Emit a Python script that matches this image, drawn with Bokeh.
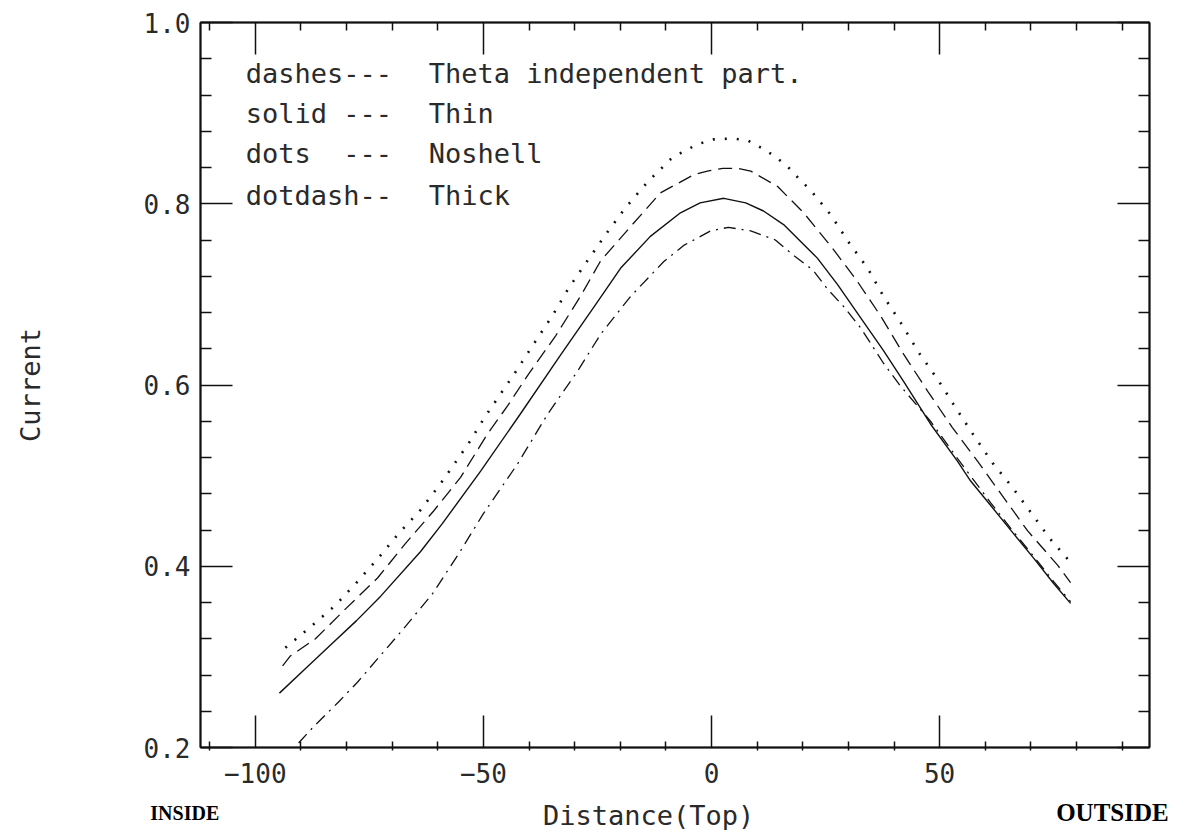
import math
from bokeh.plotting import figure
from bokeh.models import (LinearAxis, FixedTicker, Range1d, Label,
                          PrintfTickFormatter, CustomJSTickFormatter)
from bokeh.embed import file_html
from bokeh.resources import INLINE

# ---------------- data ----------------
x_major_ticks = [-100, -50, 0, 50]
x_minor_ticks = [-110, -90, -80, -70, -60, -40, -30, -20, -10, 10, 20, 30, 40, 60, 70, 80, 90]
y_major_ticks = [0.2, 0.4, 0.6, 0.8, 1.0]
y_minor_ticks = [0.24, 0.28, 0.32, 0.36, 0.44, 0.48, 0.52, 0.56, 0.64, 0.68, 0.72, 0.76,
                 0.84, 0.88, 0.92, 0.96]

# dots --- Noshell
noshell_x = [-93.4, -87.9, -82.4, -77.8, -73.2, -68.6, -63.8, -59.4, -53.3, -49.5, -43.0,
             -39.0, -34.8, -31.3, -27.2, -23.2, -18.8, -14.0, -9.0, -6.1, -2.8, 0.4, 4.6,
             7.9, 11.2, 14.0, 16.7, 19.1, 21.7, 26.1, 30.0, 34.2, 37.7, 41.7, 45.4, 49.6,
             53.5, 57.4, 61.6, 65.8, 70.2, 74.1, 78.9]
noshell_y = [0.310, 0.333, 0.357, 0.382, 0.408, 0.436, 0.462, 0.491, 0.535, 0.566, 0.614,
             0.645, 0.677, 0.707, 0.737, 0.766, 0.796, 0.824, 0.849, 0.858, 0.866, 0.871, 0.872,
             0.870, 0.861, 0.852, 0.841, 0.828, 0.815, 0.788, 0.758, 0.729, 0.698, 0.667, 0.636,
             0.606, 0.575, 0.545, 0.514, 0.488, 0.458, 0.431, 0.403]

# dashes --- Theta independent part.
theta_x = [-94.0, -92.3, -86.8, -80.2, -73.2, -67.1, -60.9, -55.0, -49.1, -44.7, -40.1,
           -34.2, -28.7, -24.3, -17.7, -11.2, -3.9, -0.9, 2.5, 5.7, 8.6, 14.5, 20.2, 26.5,
           31.6, 37.1, 42.1, 47.4, 52.8, 58.3, 64.0, 69.3, 75.9, 78.7]
theta_y = [0.290, 0.301, 0.320, 0.353, 0.387, 0.425, 0.461, 0.498, 0.546, 0.577, 0.612,
           0.654, 0.698, 0.737, 0.775, 0.812, 0.832, 0.836, 0.839, 0.839, 0.836, 0.819, 0.790,
           0.751, 0.717, 0.676, 0.634, 0.593, 0.553, 0.516, 0.476, 0.439, 0.401, 0.382]

# solid --- Thin
thin_x = [-94.7, -88.8, -83.5, -77.8, -72.5, -63.8, -59.0, -50.6, -41.9, -33.1, -25.9, -19.9,
          -13.4, -6.8, -2.5, 2.7, 7.5, 11.4, 15.8, 23.2, 27.6, 32.7, 37.7, 42.1, 48.0, 53.9,
          56.8, 61.2, 66.2, 70.6, 75.0, 78.7]
thin_y = [0.260, 0.288, 0.313, 0.340, 0.367, 0.416, 0.447, 0.505, 0.568, 0.633, 0.685, 0.729,
          0.764, 0.790, 0.801, 0.806, 0.801, 0.792, 0.777, 0.740, 0.711, 0.674, 0.638, 0.604,
          0.557, 0.516, 0.494, 0.467, 0.436, 0.409, 0.381, 0.359]

# dotdash --- Thick
thick_x = [-90.5, -87.4, -81.8, -77.6, -73.0, -67.5, -61.1, -55.0, -50.0, -42.5, -35.9,
           -29.4, -24.3, -17.7, -10.5, -6.1, -0.2, 3.7, 8.6, 14.0, 18.0, 22.2, 25.4, 28.9,
           32.7, 37.7, 41.4, 48.0, 53.9, 61.2, 66.2, 70.6, 75.0, 78.7]
thick_y = [0.205, 0.222, 0.250, 0.272, 0.299, 0.331, 0.370, 0.417, 0.458, 0.513, 0.568,
           0.615, 0.656, 0.698, 0.736, 0.754, 0.770, 0.774, 0.770, 0.760, 0.743, 0.727, 0.706,
           0.687, 0.663, 0.624, 0.599, 0.560, 0.519, 0.470, 0.438, 0.411, 0.383, 0.361]

NB = "\u00a0"
legend_keys = ["dashes---", "solid" + NB + "---", "dots" + NB + NB + "---", "dotdash--"]
legend_names = ["Theta" + NB + "independent" + NB + "part.", "Thin", "Noshell", "Thick"]

# ---------------- figure ----------------
INK = "#111111"
TXT = "#2a2a2a"
MONO = "DejaVu Sans Mono"

p = figure(width=1186, height=830,
           x_range=Range1d(-112, 96), y_range=Range1d(0.2, 1.0),
           output_backend="svg", toolbar_location=None,
           min_border_left=200, min_border_right=37,
           min_border_top=21, min_border_bottom=83,
           background_fill_color="white", border_fill_color="white")
p.xgrid.visible = False
p.ygrid.visible = False
p.outline_line_color = INK
p.outline_line_width = 1.5

def style_axis(ax, major, minor, minor_in, minor_out, labels):
    ax.ticker = FixedTicker(ticks=major, minor_ticks=minor)
    ax.axis_line_color = INK
    ax.axis_line_width = 2
    ax.major_tick_line_color = INK
    ax.major_tick_line_width = 1.5
    ax.major_tick_in = 32
    ax.major_tick_out = 0
    ax.minor_tick_line_color = INK
    ax.minor_tick_line_width = 1.5
    ax.minor_tick_in = minor_in
    ax.minor_tick_out = minor_out
    if labels:
        ax.major_label_text_font = MONO
        ax.major_label_text_font_size = "26px"
        ax.major_label_text_color = TXT
    else:
        ax.formatter = CustomJSTickFormatter(code="return ''")
        ax.major_label_text_font_size = "0px"
        ax.major_label_standoff = 0

xb = p.xaxis[0]
style_axis(xb, x_major_ticks, x_minor_ticks, 6, 3, True)
xb.major_label_standoff = 12

yl = p.yaxis[0]
style_axis(yl, y_major_ticks, y_minor_ticks, 11, 0, True)
yl.formatter = PrintfTickFormatter(format="%.1f")
yl.major_label_standoff = 10

xt = LinearAxis()
style_axis(xt, x_major_ticks, x_minor_ticks, 8, 0, False)
p.add_layout(xt, "above")

yr = LinearAxis()
style_axis(yr, y_major_ticks, y_minor_ticks, 11, 0, False)
p.add_layout(yr, "right")

# curves
p.line(noshell_x, noshell_y, line_color=INK, line_width=2.6, line_dash="2 10")
p.line(theta_x, theta_y, line_color=INK, line_width=1.3, line_dash="14 7")
p.line(thin_x, thin_y, line_color=INK, line_width=1.4)
p.line(thick_x, thick_y, line_color=INK, line_width=1.3, line_dash="12 6 2 6")

# legend text (as drawn in the original: plain text lines)
rows_y = [0.944, 0.900, 0.855, 0.809]
for key, name, ry in zip(legend_keys, legend_names, rows_y):
    p.add_layout(Label(x=-102.1, y=ry, text=key, text_font=MONO, text_font_size="27px",
                       text_color=TXT, text_baseline="middle", text_align="left"))
    p.add_layout(Label(x=-62.0, y=ry, text=name, text_font=MONO, text_font_size="27px",
                       text_color=TXT, text_baseline="middle", text_align="left"))

# texts outside the frame: each is put in a side panel that has room for it
# (positions are still given in the frame's data coordinates)
p.add_layout(Label(x=-13.8, y=0.125, text="Distance(Top)", text_font=MONO,
                   text_font_size="27px", text_color=TXT,
                   text_align="center", text_baseline="middle"), "below")
p.add_layout(Label(x=-149.3, y=0.6, text="Current", text_font=MONO,
                   text_font_size="27px", text_color=TXT, angle=math.pi / 2,
                   text_align="center", text_baseline="middle"), "right")
p.add_layout(Label(x=-123.0, y=0.128, text="INSIDE", text_font="Liberation Serif",
                   text_font_style="bold", text_font_size="20px", text_color="black",
                   text_align="left", text_baseline="middle"), "above")
p.add_layout(Label(x=100.2, y=0.128, text="OUTSIDE", text_font="Liberation Serif",
                   text_font_style="bold", text_font_size="25px", text_color="black",
                   text_align="right", text_baseline="middle"), "left")

open("out.html", "w").write(file_html(p, INLINE))
